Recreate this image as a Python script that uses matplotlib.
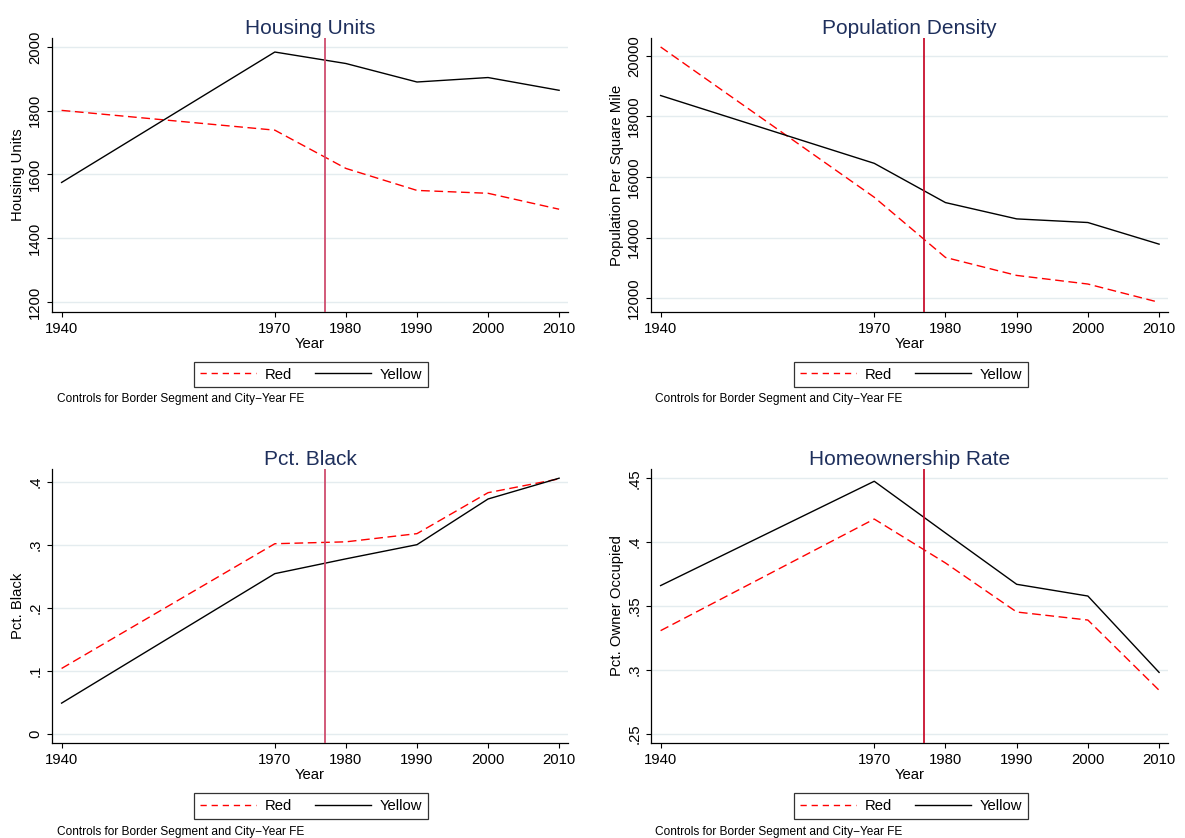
import matplotlib
matplotlib.use("Agg")
import matplotlib.pyplot as plt

plt.rcParams['font.family'] = ['Liberation Sans', 'DejaVu Sans']

# data
years = [1940, 1970, 1980, 1990, 2000, 2010]
treat_year = 1977

housing_red = [1801, 1739, 1619, 1550, 1541, 1491]
housing_yellow = [1575, 1984, 1948, 1890, 1904, 1864]

density_red = [20297, 15330, 13341, 12747, 12462, 11857]
density_yellow = [18692, 16451, 15154, 14615, 14495, 13780]

black_red = [0.104, 0.302, 0.305, 0.318, 0.383, 0.405]
black_yellow = [0.049, 0.2545, 0.278, 0.3005, 0.373, 0.406]

owner_red = [0.3307, 0.4181, 0.3837, 0.3453, 0.339, 0.284]
owner_yellow = [0.366, 0.4477, 0.4072, 0.367, 0.3578, 0.298]

housing_ticks = [1200, 1400, 1600, 1800, 2000]
density_ticks = [12000, 14000, 16000, 18000, 20000]
black_ticks = [0, 0.1, 0.2, 0.3, 0.4]
black_labels = ["0", ".1", ".2", ".3", ".4"]
owner_ticks = [0.25, 0.3, 0.35, 0.4, 0.45]
owner_labels = [".25", ".3", ".35", ".4", ".45"]

W, H = 1185, 838
fig = plt.figure(figsize=(W / 100, H / 100), dpi=100)
fig.patch.set_facecolor("white")


def px_rect(l, t, r, b):
    return [l / W, 1 - b / H, (r - l) / W, (b - t) / H]


def panel(rect, title, ylabel, red, yellow, yticks, ylabels, ylim, vcolor, legx, legy, notex, notey):
    ax = fig.add_axes(px_rect(*rect))
    for y in yticks:
        ax.axhline(y, color="#e4ecef", lw=1.0, zorder=0)
    ax.plot(years, red, color="#ff0000", lw=1.0, dashes=(6.3, 3.3), label="Red", zorder=3)
    ax.plot(years, yellow, color="black", lw=1.0, label="Yellow", zorder=3)
    ax.axvline(treat_year, color=vcolor, lw=1.3, zorder=4)
    ax.set_xlim(1938.65, 2011.25)
    ax.set_ylim(*ylim)
    ax.set_xticks(years)
    ax.set_yticks(yticks)
    ax.set_yticklabels(ylabels if ylabels else [str(v) for v in yticks])
    ax.tick_params(axis="both", direction="out", length=3.5, width=0.8, labelsize=10.7, pad=3.5)
    for lab in ax.get_yticklabels():
        lab.set_rotation(90)
        lab.set_va("center")
    for s in ["top", "right"]:
        ax.spines[s].set_visible(False)
    for s in ["left", "bottom"]:
        ax.spines[s].set_linewidth(0.9)
    ax.set_title(title, fontsize=15, color="#1e2f5c", pad=3)
    ax.set_xlabel("Year", fontsize=10.7, labelpad=1)
    ax.set_ylabel(ylabel, fontsize=10.7, labelpad=2)
    leg = ax.legend(loc="center", bbox_to_anchor=(legx / W, 1 - legy / H),
                    bbox_transform=fig.transFigure, ncol=2, fontsize=10.7,
                    frameon=True, fancybox=False, handlelength=3.8,
                    handletextpad=0.6, columnspacing=1.5, borderpad=0.4)
    leg.get_frame().set_edgecolor("black")
    leg.get_frame().set_linewidth(0.9)
    leg.get_lines()[0].set_dashes((4.5, 3.5))
    fig.text(notex / W, 1 - notey / H, "Controls for Border Segment and City−Year FE",
             fontsize=8.6, va="center", ha="left")
    return ax


panel((52, 38, 568, 312), "Housing Units", "Housing Units", housing_red, housing_yellow,
      housing_ticks, None, (1168.7, 2028), "#cf4d6e", 311, 374.5, 57, 399)
panel((651, 38, 1168, 312), "Population Density", "Population Per Square Mile", density_red, density_yellow,
      density_ticks, None, (11538, 20593), "#c8102e", 911, 374.5, 655, 399)
panel((52, 469, 568, 743), "Pct. Black", "Pct. Black", black_red, black_yellow,
      black_ticks, black_labels, (-0.0143, 0.4206), "#cf4d6e", 311, 806, 57, 832)
panel((651, 469, 1168, 743), "Homeownership Rate", "Pct. Owner Occupied", owner_red, owner_yellow,
      owner_ticks, owner_labels, (0.2427, 0.4573), "#c8102e", 911, 806, 655, 832)

fig.savefig("out.png", dpi=100)
